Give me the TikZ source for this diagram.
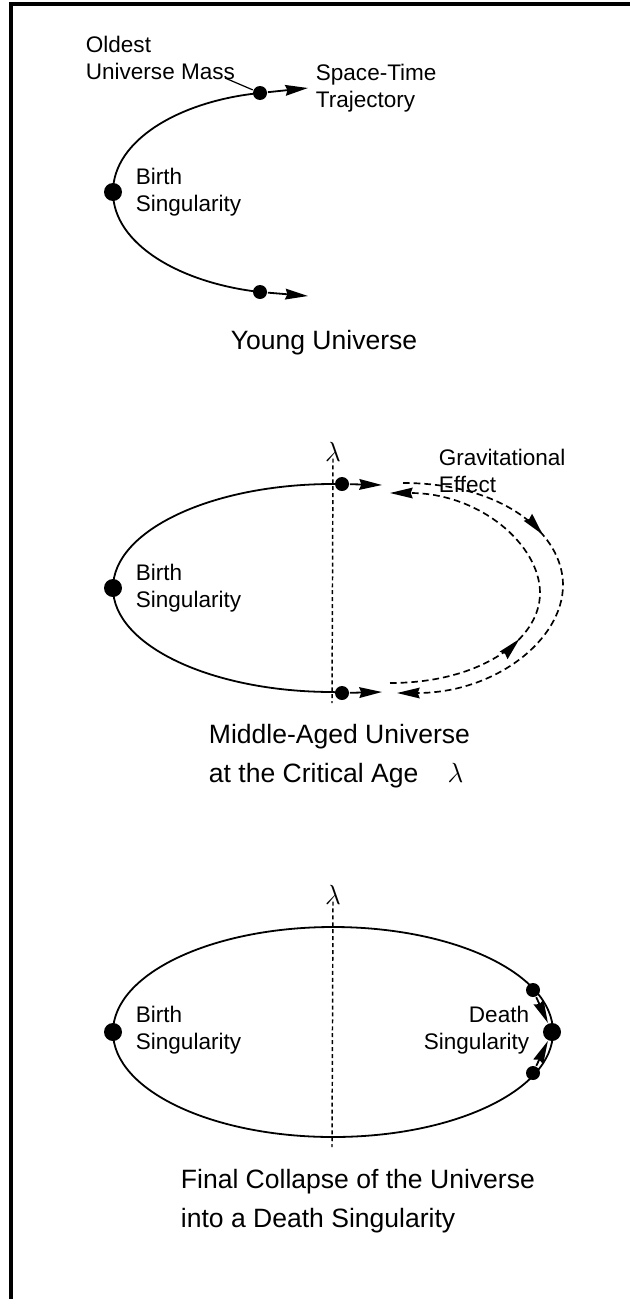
\documentclass[tikz,border=0pt]{standalone}
\usepackage{fontspec}
\setmainfont{Liberation Sans}
\usetikzlibrary{arrows.meta}
\usetikzlibrary{decorations.markings}
\tikzset{
  dot/.style={circle,fill,inner sep=0pt,minimum size=10.5pt},
  bigdot/.style={circle,fill,inner sep=0pt,minimum size=13.5pt},
  traj/.style={-{Stealth[length=17pt,width=8pt,inset=1.5pt]}},
  grav/.style={dashed,dash pattern=on 5pt off 3pt,line width=1.25pt},
  axisline/.style={dash pattern=on 3pt off 2.2pt,line width=1.1pt},
  lbl/.style={font=\fontsize{16.9}{20.25}\selectfont,align=left,inner sep=0pt},
  captxt/.style={font=\fontsize{19.9}{29.25}\selectfont,align=left,inner sep=0pt},
  lam/.style={font=\fontsize{20}{22}\selectfont,inner sep=0pt},
  midarrow/.style={postaction={decorate},decoration={markings,
    mark=at position #1 with {\arrow{Stealth[length=17pt,width=8pt,inset=1.5pt]}}}}
}

\begin{document}
\begin{tikzpicture}[x=0.75pt,y=-0.75pt,line width=1.35pt]
\useasboundingbox (0,0) rectangle (630,1299);
% frame
\draw[line width=2.4pt] (11,1299) -- (11,4) -- (630,4);

% young universe
\node[bigdot] (bA) at (113,192) {};
\node[dot] (oA) at (260,93) {};
\node[dot] (lA) at (260,292) {};
\coordinate (tA1) at (308,88);
\coordinate (tA2) at (308,296);
\draw (oA.center) .. controls (180,101) and (113,140) .. (bA.center)
  .. controls (113,244) and (180,283) .. (lA.center);
\draw[traj] (oA) -- (tA1);
\draw[traj] (lA) -- (tA2);
\node[lbl,anchor=west] (oldA) at (85,58) {Oldest\\Universe Mass};
\coordinate (ldrA) at (225,78);
\draw[line width=0.9pt] (ldrA) -- (oA);
\node[lbl,anchor=west] (stA) at (315,88) {Space-Time\\Trajectory};
\node[lbl,anchor=west] (birthA) at (135,192) {Birth\\Singularity};
\node[captxt] (capA) at (324,343) {Young Universe};

% middle-aged universe
\node[lam] (lamB) at (333,452) {$\lambda$};
\coordinate (axB) at (332,703);
\draw[axisline] (lamB.south) ++(0,-4) -- (axB);
\node[bigdot] (bB) at (113,588) {};
\node[dot] (oB) at (342,484) {};
\node[dot] (lB) at (342,693) {};
\coordinate (tB1) at (382,485);
\coordinate (tB2) at (382,692);
\draw (oB.center) -- (333,484) arc[start angle=-90,end angle=-270,x radius=220,y radius=104]
  -- (lB.center);
\draw[traj] (oB) -- (tB1);
\draw[traj] (lB) -- (tB2);
% gravitational loops
\coordinate (gO1) at (403,483);
\coordinate (gO2) at (397,693);
\coordinate (gI1) at (390,683);
\coordinate (gI2) at (390,493);
\draw[grav,midarrow=0.36,-{Stealth[length=17pt,width=8pt,inset=1.5pt]}] (gO1)
  .. controls (505,483) and (563,535) .. (563,585)
  .. controls (563,640) and (495,693) .. (gO2);
\draw[grav,midarrow=0.36,-{Stealth[length=17pt,width=8pt,inset=1.5pt]}] (gI1)
  .. controls (480,683) and (540,640) .. (540,593)
  .. controls (540,545) and (480,493) .. (gI2);
\node[lbl,anchor=west] (gravB) at (438,471) {Gravitational\\Effect};
\node[lbl,anchor=west] (birthB) at (135,588) {Birth\\Singularity};
\node[captxt,anchor=west] (capB) at (208,756) {Middle-Aged Universe\\at the Critical Age\hspace{1.1em}$\lambda$};

% final collapse
\node[lam] (lamC) at (333,895) {$\lambda$};
\coordinate (axC) at (332,1147);
\draw[axisline] (lamC.south) ++(0,-4) -- (axC);
\draw (333,1032) ellipse[x radius=220,y radius=105];
\node[bigdot] (bC) at (113,1032) {};
\node[bigdot] (dC) at (552,1032) {};
\node[dot] (uC) at (533,990) {};
\node[dot] (wC) at (533,1073) {};
\draw[traj] (uC) -- (dC);
\draw[traj] (wC) -- (dC);
\node[lbl,anchor=west] (birthC) at (135,1030) {Birth\\Singularity};
\node[lbl,anchor=east,align=right] (deathC) at (530,1030) {Death\\Singularity};
\node[captxt,anchor=west] (capC) at (180,1201) {Final Collapse of the Universe\\into a Death Singularity};
\end{tikzpicture}
\end{document}
